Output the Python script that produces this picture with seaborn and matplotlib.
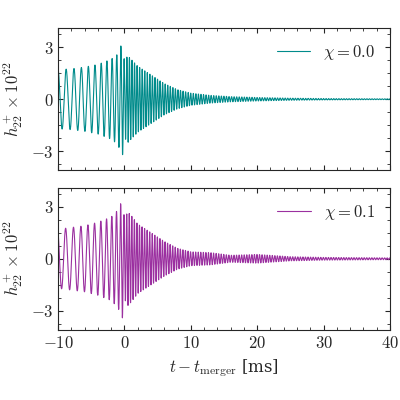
import numpy as np
import pandas as pd
import matplotlib
matplotlib.use("Agg")
import matplotlib.pyplot as plt
from matplotlib.ticker import FuncFormatter
import seaborn as sns

# envelope / instantaneous frequency (t in ms)
t_knots = [-10, -8, -6, -4, -2, -1, -0.3, 0, 0.5, 1, 2, 4, 6, 8, 10, 13, 16, 20, 25, 30, 40]
amp_chi0 = [1.7, 1.75, 1.85, 2.0, 2.3, 2.6, 3.3, 2.2, 2.5, 2.3, 1.9, 1.4, 0.9, 0.55, 0.35, 0.22, 0.15, 0.1, 0.06, 0.04, 0.02]
amp_chi1 = [1.7, 1.8, 1.9, 2.1, 2.4, 2.8, 3.4, 2.3, 2.7, 2.5, 2.0, 1.5, 1.0, 0.6, 0.4, 0.35, 0.2, 0.25, 0.12, 0.08, 0.05]
freq_khz = [0.8, 0.85, 0.95, 1.05, 1.3, 1.55, 1.9, 2.4, 2.6, 2.6, 2.6, 2.6, 2.6, 2.6, 2.6, 2.6, 2.6, 2.6, 2.6, 2.6, 2.6]
chi_labels = [r"$\chi = 0.0$", r"$\chi = 0.1$"]
colors = ["#008b8b", "#9b30a0"]

t = np.linspace(-10, 40, 30000)
phase = 2 * np.pi * np.cumsum(np.interp(t, t_knots, freq_khz)) * (t[1] - t[0])

sns.set_style("ticks")
plt.rcParams["font.family"] = ["DejaVu Serif"]
plt.rcParams["mathtext.fontset"] = "cm"

math_fmt = FuncFormatter(lambda v, pos: f"${v:g}$".replace("-", "-"))

fig, axes = plt.subplots(2, 1, figsize=(4, 4), dpi=100, sharex=True)
for ax, amps, lab, col, ph0 in zip(axes, [amp_chi0, amp_chi1], chi_labels, colors, [0.0, 0.4]):
    h = np.interp(t, t_knots, amps) * np.cos(phase + ph0)
    df = pd.DataFrame({"t": t, "h": h})
    sns.lineplot(data=df, x="t", y="h", ax=ax, color=col, lw=0.8, label=lab)
    ax.set_ylim(-4.1, 4.1)
    ax.set_yticks([-3, 0, 3])
    ax.set_xlim(-10, 40)
    ax.set_ylabel(r"$h^+_{22}\times10^{22}$", fontsize=12)
    ax.set_xlabel("")
    ax.xaxis.set_major_formatter(math_fmt)
    ax.yaxis.set_major_formatter(math_fmt)
    ax.minorticks_on()
    ax.tick_params(which="both", direction="in", top=True, right=True, labelsize=12)
    ax.legend(loc="upper right", frameon=False, fontsize=12, handlelength=2)
axes[1].set_xlabel(r"$t - t_{\rm merger}$ [ms]", fontsize=12)

fig.subplots_adjust(left=0.145, right=0.975, top=0.93, bottom=0.175, hspace=0.12)
fig.savefig("out.png", dpi=100)
